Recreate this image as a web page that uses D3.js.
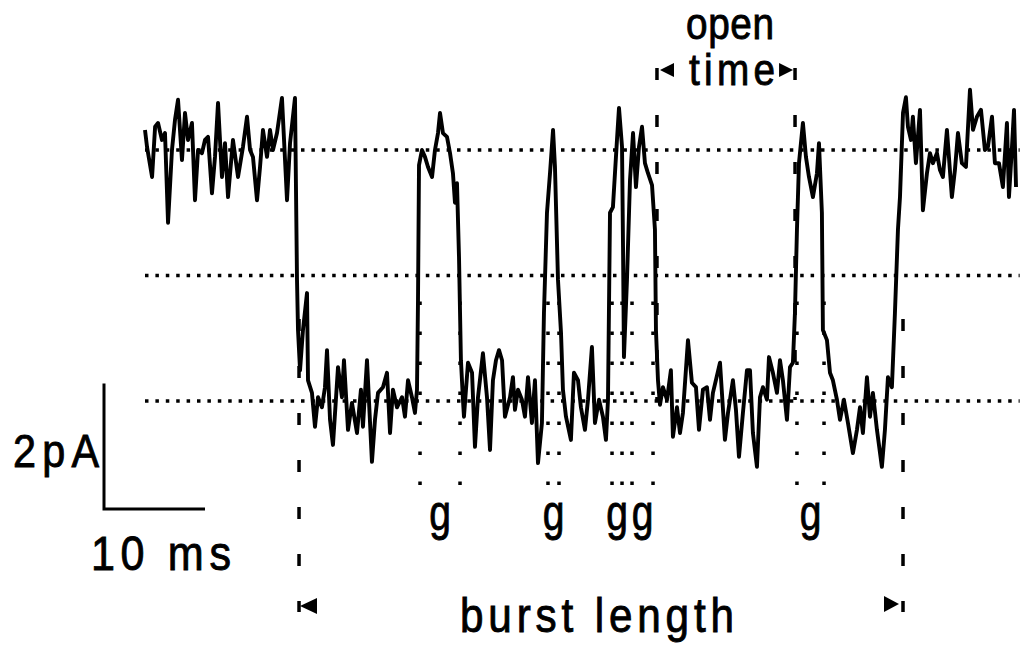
<!DOCTYPE html>
<html>
<head>
<meta charset="utf-8">
<script src="https://cdn.jsdelivr.net/npm/d3@7"></script>
<style>
  html, body { margin: 0; padding: 0; background: #fff; }
  svg { display: block; }
  text { font-family: "Liberation Sans", Arial, sans-serif; fill: #000; stroke: #000; stroke-width: 0.9; }
</style>
</head>
<body>
<svg id="chart" width="1032" height="645"></svg>
<script>
// ---- data (time in ms, current in pA) ----
const time = [
  0, 0.2, 0.7, 1.0, 1.29, 1.68, 1.98, 2.28, 2.67, 2.97, 3.27, 3.66, 3.96, 4.26, 4.65, 4.95, 5.25, 5.64, 5.94, 6.24,
  6.63, 6.93, 7.23, 7.62, 7.92, 8.22, 8.71, 9.21, 9.70, 10.10, 10.40, 10.69, 11.09, 11.39, 11.68, 12.08, 12.38, 12.67, 13.07, 13.56,
  14.06, 14.36, 14.85,
  15.05, 15.15, 15.35, 15.64, 16.04, 16.14, 16.53, 16.83, 17.13, 17.52, 17.82, 18.02, 18.32, 18.61, 19.11, 19.50, 19.70, 20.10, 20.49, 20.99,
  21.38, 21.58, 21.98, 22.47, 22.77, 23.07, 23.56, 23.96, 24.26, 24.55, 24.95, 25.45, 25.74, 26.04, 26.43, 26.73, 26.93,
  27.03, 27.13, 27.42, 27.72, 28.02, 28.42, 28.71, 29.01, 29.21, 29.50, 29.90, 30.20, 30.49, 30.69, 30.89, 31.09, 31.28, 31.48,
  31.58, 31.98, 32.38, 32.67, 32.97, 33.46, 33.86, 34.16, 34.45, 34.75, 35.05, 35.35, 35.64, 36.14, 36.43, 36.63, 36.93, 37.32, 37.62, 37.92,
  38.31, 38.61, 38.91, 39.30,
  39.50, 39.80, 40.10, 40.40, 40.59, 40.89, 41.19, 41.38, 41.68, 42.17, 42.47, 42.87, 43.16, 43.56, 43.86, 44.25, 44.55, 44.95, 45.34, 45.64, 45.84,
  46.04, 46.33, 46.73, 46.93, 47.23, 47.33, 47.42, 47.72, 48.02, 48.32, 48.61, 48.91, 49.21, 49.50, 49.80, 50.20, 50.49, 50.59, 50.79, 50.99,
  51.28, 51.68, 52.07, 52.27, 52.67, 52.97, 53.26, 53.76, 54.15, 54.55, 54.85, 55.24, 55.64, 55.94, 56.23, 56.93, 57.42, 57.72, 58.21, 58.51,
  58.81, 59.20, 59.60, 59.90, 60.19, 60.59, 60.89, 61.18, 61.58, 61.78, 62.17, 62.57, 62.87, 63.16, 63.56, 63.86, 64.15,
  64.35, 64.55, 64.75, 65.14, 65.44, 65.74, 66.13, 66.53, 66.73, 67.02, 67.12, 67.52,
  67.82, 68.11, 68.51, 68.81, 69.20, 69.60, 70.09, 70.49, 70.79, 71.08, 71.48, 71.78, 72.07, 72.47, 72.96, 73.26, 73.56, 73.95, 74.25, 74.55,
  74.75, 75.05, 75.34, 75.54, 75.84, 76.03, 76.33, 76.73, 77.02, 77.42, 77.72, 78.01, 78.41, 78.71, 79.00, 79.40, 79.89, 80.19, 80.49, 80.88,
  81.28, 81.68, 81.98, 82.37, 82.77, 83.16, 83.46, 83.86, 84.15, 84.55, 84.94, 85.34, 85.54, 85.84, 86.04, 86.24
];
const current = [
  0.32, 0.05, -0.43, 0.37, 0.43, 0.16, 0.27, -1.16, 0, 0.48, 0.80, -0.16, 0.59, 0.16, 0.43, -0.80, 0, -0.05, 0.16, 0.21,
  -0.69, -0.11, 0.75, -0.43, 0.11, -0.75, 0.16, -0.43, 0.05, 0.53, 0, -0.11, -0.80, -0.27, 0.32, -0.11, 0.32, 0, 0.27, 0.83,
  -0.80, 0.11, 0.83,
  -2.07, -2.87, -3.51, -2.87, -2.28, -3.67, -3.87, -4.41, -3.94, -4.10, -3.78, -3.19, -4.30, -4.70, -3.46, -3.94, -3.35, -4.46, -4.03, -4.51,
  -3.82, -4.41, -3.35, -4.97, -4.30, -3.87, -3.78, -3.55, -4.51, -3.82, -4.10, -3.94, -4.25, -3.67, -3.94, -4.19, -3.82,
  -2.39, -0.24, 0, -0.11, -0.27, -0.43, 0, 0.27, 0.59, 0.27, 0.21, -0.05, -0.37, -0.84, -0.53, -1.71, -3.35, -3.98,
  -4.25, -3.39, -3.55, -4.73, -3.94, -3.24, -3.94, -4.78, -3.67, -3.35, -3.19, -3.35, -4.25, -3.94, -3.62, -4.14, -3.82, -3.98, -4.25, -3.62,
  -4.35, -3.67, -4.99, -4.35,
  -2.60, -1.00, -0.37, 0.32, -0.27, -2.07, -2.92, -3.82, -4.25, -4.62, -3.55, -3.67, -4.10, -4.46, -3.98, -3.14, -4.35, -3.98, -4.25, -4.62, -3.98,
  -1.00, -0.91, 0.16, 0.67, 0.05, -1.55, -3.30, -2.07, -0.48, 0.27, -0.59, 0.05, 0.37, -0.21, -0.37, -0.56, -1.27, -2.87, -3.67, -4.06,
  -3.78, -3.98, -3.51, -4.57, -4.10, -4.51, -4.19, -3.03, -3.71, -3.78, -4.46, -3.82, -3.78, -4.30, -3.87, -3.39, -4.62, -4.19, -3.67, -4.14,
  -4.89, -4.19, -3.51, -3.51, -4.51, -5.05, -3.94, -3.78, -3.98, -3.30, -3.55, -3.87, -3.35, -3.67, -4.30, -3.46, -3.39,
  -2.60, -1.27, -0.21, 0.43, -0.11, -0.43, -0.75, -0.37, 0.11, -1.00, -2.87, -3.03,
  -3.55, -3.67, -3.98, -4.30, -3.98, -4.35, -4.83, -4.46, -4.10, -4.51, -3.62, -4.25, -3.87, -4.46, -5.05, -4.46, -3.62, -3.78, -2.60, -1.27,
  -0.75, 0.59, 0.84, 0.37, 0.16, 0.53, -0.21, 0.64, -0.96, -0.37, -0.05, -0.21, -0.05, -0.32, -0.43, 0.32, -0.75, -0.32, 0.27, -0.21,
  -0.27, 0.96, 0.32, 0.53, 0.64, 0, 0.05, 0.53, -0.21, -0.21, -0.59, 0.43, -0.75, 0.05, 0.64, -0.59
];
const levels = [0, -2, -4];                 // closed, half, fully open (pA)
const levelSpan = [0, 86.6];                // ms
const burstEdges = [15.25, 75.05];          // ms
const openTimeEdges = [50.69, 64.36];       // ms
const gapEdges = [[27.23, 31.19], [39.90, 40.99], [46.24, 47.23], [48.22, 50.30], [64.55, 67.23]];
const gapLabel = "g";
const scaleBarTime = 10;                    // ms
const scaleBarCurrent = 2;                  // pA
const labels = { open: "open", time: "time", burst: "burst length", amp: "2pA", dur: "10 ms" };

// ---- scales ----
const x = d3.scaleLinear().domain([0, 86.6]).range([145, 145 + 86.6 * 10.1]);
const y = d3.scaleLinear().domain([0, -4]).range([150, 401]);

const svg = d3.select("#chart");
const SX = 0.88; // condensed look

function label(txt, x0, base, width, size) {
  const t = svg.append("text")
    .attr("transform", `translate(${x0},${base}) scale(${SX},1)`)
    .attr("font-size", size)
    .text(txt);
  if (width) t.attr("textLength", width / SX).attr("lengthAdjust", "spacing");
  return t;
}

// reference level dotted lines
svg.append("g").selectAll("line").data(levels).join("line")
  .attr("x1", x(levelSpan[0])).attr("x2", x(levelSpan[1]))
  .attr("y1", d => y(d)).attr("y2", d => y(d))
  .attr("stroke", "#000").attr("stroke-width", 3.5)
  .attr("stroke-dasharray", "3.5,6.9");

// gap edge dotted columns
const gapX = gapEdges.flat();
svg.append("g").selectAll("line").data(gapX).join("line")
  .attr("x1", d => x(d)).attr("x2", d => x(d))
  .attr("y1", 301.5).attr("y2", 486)
  .attr("stroke", "#000").attr("stroke-width", 3.5)
  .attr("stroke-dasharray", "3.5,26.5");

// burst dashed lines
svg.append("g").selectAll("line").data(burstEdges).join("line")
  .attr("x1", d => x(d)).attr("x2", d => x(d))
  .attr("y1", 319).attr("y2", 612)
  .attr("stroke", "#000").attr("stroke-width", 3.5)
  .attr("stroke-dasharray", "12,35");

// open time dashed lines
svg.append("g").selectAll("line").data(openTimeEdges).join("line")
  .attr("x1", d => x(d)).attr("x2", d => x(d))
  .attr("y1", 68).attr("y2", 400)
  .attr("stroke", "#000").attr("stroke-width", 3.5)
  .attr("stroke-dasharray", "12,35");

// trace
const pts = time.map((t, i) => [t, current[i]]);
svg.append("path")
  .datum(pts)
  .attr("fill", "none")
  .attr("stroke", "#000")
  .attr("stroke-width", 3.9)
  .attr("stroke-linejoin", "round")
  .attr("d", d3.line().x(d => x(d[0])).y(d => y(d[1])));

// arrow heads
function tri(tipX, tipY, dir, len, half) {
  const bx = tipX - dir * len;
  return `M${tipX},${tipY}L${bx},${tipY - half}L${bx},${tipY + half}Z`;
}
svg.append("path").attr("d", tri(x(openTimeEdges[0]) + 3, 70, -1, 14, 7)).attr("fill", "#000");
svg.append("path").attr("d", tri(x(openTimeEdges[1]) - 2, 70, 1, 14, 7)).attr("fill", "#000");
svg.append("path").attr("d", tri(x(burstEdges[0]) + 1, 606, -1, 17, 8)).attr("fill", "#000");
svg.append("path").attr("d", tri(x(burstEdges[1]) - 4, 604, 1, 15, 8)).attr("fill", "#000");

// gap labels
svg.append("g").selectAll("text").data(gapEdges).join("text")
  .attr("transform", d => `translate(${x((d[0] + d[1]) / 2)},530) scale(0.78,1)`)
  .attr("text-anchor", "middle")
  .attr("font-size", 50)
  .text(gapLabel);

// open time label
label(labels.open, 686, 39, 88, 44);
label(labels.time, 689, 85, 86, 44);

// burst length label
label(labels.burst, 460, 632, 274, 48);

// scale bar
const sbX = 104, sbY = 509;
const sbW = x(scaleBarTime) - x(0);
const sbH = y(-scaleBarCurrent) - y(0);
svg.append("path")
  .attr("d", `M${sbX},${sbY - sbH}L${sbX},${sbY}L${sbX + sbW},${sbY}`)
  .attr("fill", "none").attr("stroke", "#000").attr("stroke-width", 3);
label(labels.amp, 13, 467, 86, 47);
label(labels.dur, 91, 570, 140, 49);
</script>
</body>
</html>
